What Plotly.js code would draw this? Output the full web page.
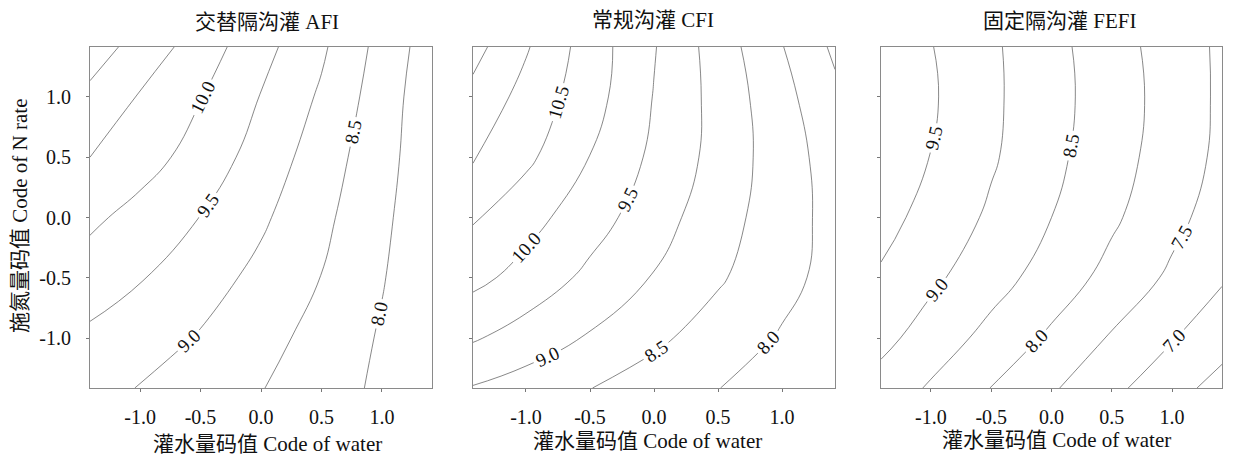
<!DOCTYPE html>
<html>
<head>
<meta charset="utf-8">
<script src="https://cdn.plot.ly/plotly-3.0.1.min.js"></script>
<style>html,body{margin:0;padding:0;background:#fff;}#chart{width:1238px;height:457px;}</style>
</head>
<body>
<div id="chart"></div>
<script>
// Coded levels (central composite design, ±1.414)
const waterCodes = [-1.414, -1, -0.5, 0, 0.5, 1, 1.414];
const nRateCodes = [-1.414, -1, -0.5, 0, 0.5, 1, 1.414];

// Estimated response values read from the contour positions (rows = N rate code, cols = water code)
const zAFI = [
  [9.17, 8.98, 8.75, 8.52, 8.22, 7.91, 7.66],
  [9.40, 9.23, 8.96, 8.67, 8.33, 7.95, 7.64],
  [9.76, 9.53, 9.21, 8.87, 8.49, 8.03, 7.64],
  [10.10, 9.83, 9.49, 9.08, 8.62, 8.10, 7.66],
  [10.50, 10.21, 9.80, 9.29, 8.76, 8.17, 7.69],
  [10.88, 10.46, 10.02, 9.48, 8.93, 8.25, 7.68],
  [11.25, 10.81, 10.26, 9.67, 9.08, 8.33, 7.74]
];
const zCFI = [
  [8.97, 8.78, 8.51, 8.26, 8.01, 7.76, 7.60],
  [9.55, 9.28, 8.95, 8.60, 8.27, 7.95, 7.73],
  [10.14, 9.82, 9.38, 8.97, 8.56, 8.16, 7.82],
  [10.55, 10.18, 9.72, 9.22, 8.71, 8.23, 7.83],
  [11.05, 10.61, 9.99, 9.40, 8.83, 8.23, 7.78],
  [11.36, 10.83, 10.21, 9.48, 8.83, 8.16, 7.61],
  [11.67, 11.05, 10.26, 9.53, 8.77, 8.02, 7.41]
];
const zFEFI = [
  [8.81, 8.44, 7.99, 7.56, 7.12, 6.68, 6.32],
  [9.14, 8.78, 8.34, 7.91, 7.45, 7.03, 6.70],
  [9.44, 9.10, 8.70, 8.28, 7.84, 7.41, 7.05],
  [9.67, 9.33, 8.92, 8.50, 8.08, 7.64, 7.27],
  [9.85, 9.49, 9.06, 8.62, 8.20, 7.76, 7.39],
  [9.94, 9.56, 9.09, 8.67, 8.24, 7.80, 7.41],
  [9.88, 9.52, 9.08, 8.65, 8.21, 7.77, 7.41]
];

const panelTitles = ['交替隔沟灌 AFI', '常规沟灌 CFI', '固定隔沟灌 FEFI'];
const xTitle = '灌水量码值 Code of water';
const yTitle = '施氮量码值 Code of N rate';
const tickVals = [-1, -0.5, 0, 0.5, 1];
const tickText = ['-1.0', '-0.5', '0.0', '0.5', '1.0'];

const FONT = "'Liberation Serif', 'Times New Roman', 'Noto Sans CJK SC', serif";
const W = 1238, H = 457;
const px = v => v / W;
const py = v => 1 - v / H;

const zs = [zAFI, zCFI, zFEFI];
const traces = zs.map((z, i) => ({
  type: 'contour',
  x: waterCodes, y: nRateCodes, z: z,
  xaxis: i === 0 ? 'x' : 'x' + (i + 1),
  yaxis: i === 0 ? 'y' : 'y' + (i + 1),
  autocontour: false,
  contours: {
    start: 6.5, end: 11.5, size: 0.5, coloring: 'none',
    showlabels: true, labelformat: '.1f',
    labelfont: {family: FONT, size: 19, color: '#111'}
  },
  line: {color: '#555', width: 0.7, smoothing: 1.3},
  showscale: false, hoverinfo: 'skip'
}));

const xDomains = [[px(90), px(432)], [px(473), px(835)], [px(881), px(1222)]];
const yDomain = [py(388), py(47)];

function xa(i) {
  return {
    domain: xDomains[i], range: [-1.414, 1.414], anchor: i === 0 ? 'y' : 'y' + (i + 1),
    tickvals: tickVals, ticktext: tickText, ticks: 'outside', ticklen: 3, tickcolor: '#777',
    ticklabelstandoff: 8,
    showline: true, mirror: true, linecolor: '#8a8a8a', linewidth: 1,
    showgrid: false, zeroline: false,
    tickfont: {family: FONT, size: 20, color: '#111'}
  };
}
function ya(i) {
  return {
    domain: yDomain, range: [-1.414, 1.414], anchor: i === 0 ? 'x' : 'x' + (i + 1),
    tickvals: tickVals, ticktext: tickText, ticks: 'outside', ticklen: 3, tickcolor: '#777',
    showticklabels: i === 0, ticklabelstandoff: 11,
    showline: true, mirror: true, linecolor: '#8a8a8a', linewidth: 1,
    showgrid: false, zeroline: false,
    tickfont: {family: FONT, size: 20, color: '#111'}
  };
}

const titleX = [267, 653, 1059];
const titleY = [22, 20, 21];
const xTitleX = [267, 647, 1056];
const xTitleY = [444, 441, 440];

const annotations = [];
for (let i = 0; i < 3; i++) {
  annotations.push({text: panelTitles[i], xref: 'paper', yref: 'paper', x: px(titleX[i]), y: py(titleY[i]),
    xanchor: 'center', yanchor: 'middle', showarrow: false, font: {family: FONT, size: 21, color: '#111'}});
  annotations.push({text: xTitle, xref: 'paper', yref: 'paper', x: px(xTitleX[i]), y: py(xTitleY[i]),
    xanchor: 'center', yanchor: 'middle', showarrow: false, font: {family: FONT, size: 21, color: '#111'}});
}
annotations.push({text: yTitle, xref: 'paper', yref: 'paper', x: px(20), y: py(216), textangle: -90,
  xanchor: 'center', yanchor: 'middle', showarrow: false, font: {family: FONT, size: 21, color: '#111'}});

const layout = {
  width: W, height: H, margin: {l: 0, r: 0, t: 0, b: 0},
  paper_bgcolor: '#fff', plot_bgcolor: '#fff', showlegend: false,
  xaxis: xa(0), yaxis: ya(0), xaxis2: xa(1), yaxis2: ya(1), xaxis3: xa(2), yaxis3: ya(2),
  annotations: annotations
};

Plotly.newPlot('chart', traces, layout, {staticPlot: true, displayModeBar: false});
</script>
</body>
</html>
